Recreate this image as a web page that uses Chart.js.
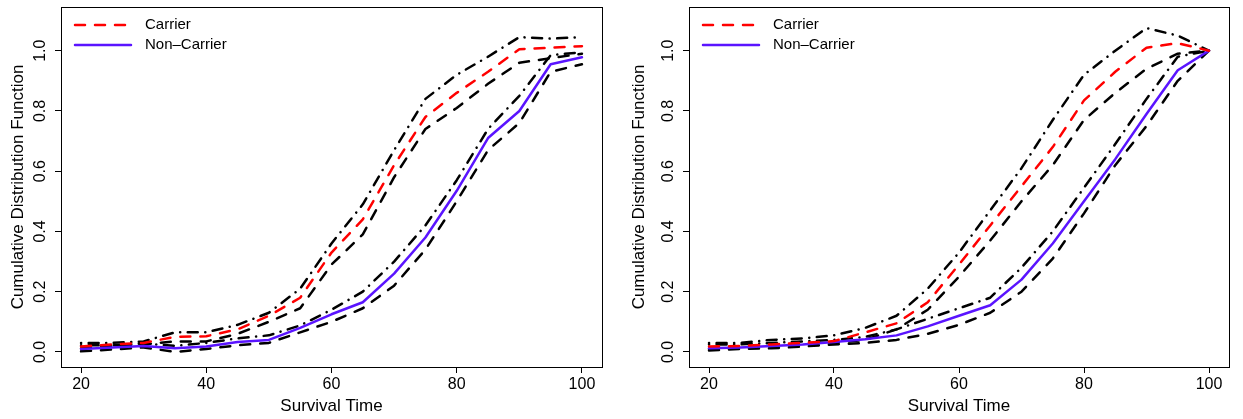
<!DOCTYPE html>
<html>
<head>
<meta charset="utf-8">
<script src="https://cdn.jsdelivr.net/npm/chart.js@4.4.1/dist/chart.umd.min.js"></script>
<style>
  body { margin: 0; background: #fff; }
  #wrap { position: relative; width: 1243px; height: 419px; }
  canvas { position: absolute; top: 0; }
</style>
</head>
<body>
<div id="wrap">
  <canvas id="leftChart" width="621" height="419" style="left:0"></canvas>
  <canvas id="rightChart" width="622" height="419" style="left:621px"></canvas>
</div>
<script>
// Survival times where the curves are evaluated
const survivalTimes = [20, 25, 30, 35, 40, 45, 50, 55, 60, 65, 70, 75, 80, 85, 90, 95, 100];
const xTicks = [20, 40, 60, 80, 100];
const yTicks = [0, 0.2, 0.4, 0.6, 0.8, 1.0];

// Left panel
const leftCarrier      = [0.018, 0.025, 0.03, 0.05, 0.052, 0.075, 0.12, 0.18, 0.33, 0.44, 0.62, 0.78, 0.86, 0.93, 1.005, 1.01, 1.015];
const leftCarrierUp    = [0.03, 0.03, 0.035, 0.065, 0.065, 0.09, 0.13, 0.21, 0.36, 0.49, 0.67, 0.84, 0.92, 0.98, 1.045, 1.04, 1.045];
const leftCarrierLo    = [0.012, 0.02, 0.025, 0.035, 0.035, 0.06, 0.10, 0.145, 0.29, 0.39, 0.58, 0.74, 0.81, 0.89, 0.96, 0.975, 0.99];
const leftNonCarrier   = [0.01, 0.015, 0.02, 0.012, 0.018, 0.033, 0.04, 0.08, 0.125, 0.165, 0.26, 0.38, 0.535, 0.71, 0.80, 0.955, 0.978];
const leftNonCarrierUp = [0.022, 0.022, 0.028, 0.02, 0.03, 0.045, 0.055, 0.088, 0.14, 0.20, 0.30, 0.42, 0.57, 0.74, 0.85, 0.985, 0.995];
const leftNonCarrierLo = [0.002, 0.008, 0.015, 0.0, 0.01, 0.022, 0.03, 0.065, 0.10, 0.145, 0.22, 0.34, 0.50, 0.67, 0.76, 0.93, 0.955];

// Right panel
const rightCarrier      = [0.018, 0.02, 0.025, 0.03, 0.036, 0.065, 0.095, 0.165, 0.29, 0.42, 0.55, 0.68, 0.835, 0.93, 1.01, 1.025, 1.0];
const rightCarrierUp    = [0.03, 0.03, 0.04, 0.045, 0.055, 0.08, 0.12, 0.21, 0.33, 0.47, 0.61, 0.77, 0.92, 1.0, 1.075, 1.05, 1.0];
const rightCarrierLo    = [0.01, 0.015, 0.02, 0.025, 0.03, 0.04, 0.075, 0.14, 0.25, 0.37, 0.50, 0.62, 0.77, 0.86, 0.94, 0.99, 1.0];
const rightNonCarrier   = [0.012, 0.015, 0.02, 0.025, 0.033, 0.042, 0.055, 0.085, 0.12, 0.155, 0.24, 0.36, 0.50, 0.64, 0.79, 0.935, 1.0];
const rightNonCarrierUp = [0.025, 0.025, 0.03, 0.035, 0.04, 0.05, 0.075, 0.11, 0.145, 0.18, 0.28, 0.40, 0.545, 0.69, 0.84, 0.98, 1.0];
const rightNonCarrierLo = [0.005, 0.01, 0.012, 0.018, 0.025, 0.03, 0.04, 0.06, 0.09, 0.13, 0.20, 0.31, 0.46, 0.62, 0.75, 0.90, 1.0];

const RED = '#ff0000';
const BLUE = '#5a14ff';
const DASHED = [10, 10];
const DOTDASH = [0.1, 7.5, 10, 7.5];
const FONT = 'Arial, "Liberation Sans", Helvetica, sans-serif';

function toPoints(values) {
    return survivalTimes.map((x, i) => ({ x: x, y: values[i] }));
}

function lineSet(label, values, color, dash) {
    return {
        label: label,
        data: toPoints(values),
        borderColor: color,
        borderWidth: 2.5,
        borderDash: dash,
        borderCapStyle: 'round',
        borderJoinStyle: 'round',
        pointRadius: 0,
        tension: 0,
        fill: false
    };
}

// box round the plot area plus R-style legend inside it
const boxAndLegend = {
    id: 'boxAndLegend',
    afterDraw(chart) {
        const ctx = chart.ctx;
        const a = chart.chartArea;
        ctx.save();
        ctx.strokeStyle = '#000';
        ctx.lineWidth = 1;
        ctx.setLineDash([]);
        ctx.strokeRect(Math.round(a.left) + 0.5, Math.round(a.top) + 0.5,
            Math.round(a.right - a.left), Math.round(a.bottom - a.top));

        const items = [
            { text: 'Carrier', color: RED, dash: DASHED, y: a.top + 18 },
            { text: 'Non\u2013Carrier', color: BLUE, dash: [], y: a.top + 38 }
        ];
        ctx.font = '15px ' + FONT;
        ctx.textBaseline = 'middle';
        ctx.fillStyle = '#000';
        items.forEach(it => {
            ctx.beginPath();
            ctx.strokeStyle = it.color;
            ctx.lineWidth = 2.5;
            ctx.lineCap = 'round';
            ctx.setLineDash(it.dash);
            ctx.moveTo(a.left + 14, it.y);
            ctx.lineTo(a.left + 70, it.y);
            ctx.stroke();
            ctx.fillText(it.text, a.left + 84, it.y);
        });
        ctx.restore();
    }
};

function noPad(scale) {
    scale.paddingTop = 0;
    scale.paddingBottom = 0;
    scale.paddingLeft = 0;
    scale.paddingRight = 0;
}

function makePanel(canvasId, carrier, carrierUp, carrierLo, nonCarrier, nonUp, nonLo, axisWidth, padRight) {
    const ctx = document.getElementById(canvasId).getContext('2d');
    return new Chart(ctx, {
        type: 'line',
        data: {
            datasets: [
                lineSet('Carrier', carrier, RED, DASHED),
                lineSet('Non-Carrier', nonCarrier, BLUE, []),
                lineSet('Carrier upper', carrierUp, '#000', DOTDASH),
                lineSet('Carrier lower', carrierLo, '#000', DASHED),
                lineSet('Non-Carrier upper', nonUp, '#000', DOTDASH),
                lineSet('Non-Carrier lower', nonLo, '#000', DASHED)
            ]
        },
        options: {
            responsive: false,
            animation: false,
            layout: { padding: { top: 7, right: padRight, bottom: 0, left: 0 } },
            plugins: {
                legend: { display: false },
                tooltip: { enabled: false }
            },
            scales: {
                x: {
                    type: 'linear',
                    min: 16.8,
                    max: 103.2,
                    afterBuildTicks: scale => { scale.ticks = xTicks.map(v => ({ value: v })); },
                    afterFit: scale => { scale.height = 52; noPad(scale); },
                    grid: { display: true, drawOnChartArea: false, drawTicks: true, tickLength: 6, color: '#000' },
                    border: { display: false },
                    ticks: { color: '#000', font: { family: FONT, size: 16 }, padding: 2, maxRotation: 0 },
                    title: { display: true, text: 'Survival Time', color: '#000', font: { family: FONT, size: 17 }, padding: { top: 0, bottom: 2 } }
                },
                y: {
                    min: -0.05,
                    max: 1.145,
                    afterBuildTicks: scale => { scale.ticks = yTicks.map(v => ({ value: v })); },
                    afterFit: scale => { scale.width = axisWidth; noPad(scale); },
                    grid: { display: true, drawOnChartArea: false, drawTicks: true, tickLength: 6, color: '#000' },
                    border: { display: false },
                    ticks: {
                        color: '#000', font: { family: FONT, size: 16 }, padding: 3,
                        minRotation: 90, maxRotation: 90, crossAlign: 'center',
                        callback: v => v.toFixed(1)
                    },
                    title: { display: true, text: 'Cumulative Distribution Function', color: '#000', font: { family: FONT, size: 17 }, padding: { top: 8, bottom: 0 } }
                }
            }
        },
        plugins: [boxAndLegend]
    });
}

makePanel('leftChart', leftCarrier, leftCarrierUp, leftCarrierLo,
    leftNonCarrier, leftNonCarrierUp, leftNonCarrierLo, 61, 19);
makePanel('rightChart', rightCarrier, rightCarrierUp, rightCarrierLo,
    rightNonCarrier, rightNonCarrierUp, rightNonCarrierLo, 68, 14);
</script>
</body>
</html>
